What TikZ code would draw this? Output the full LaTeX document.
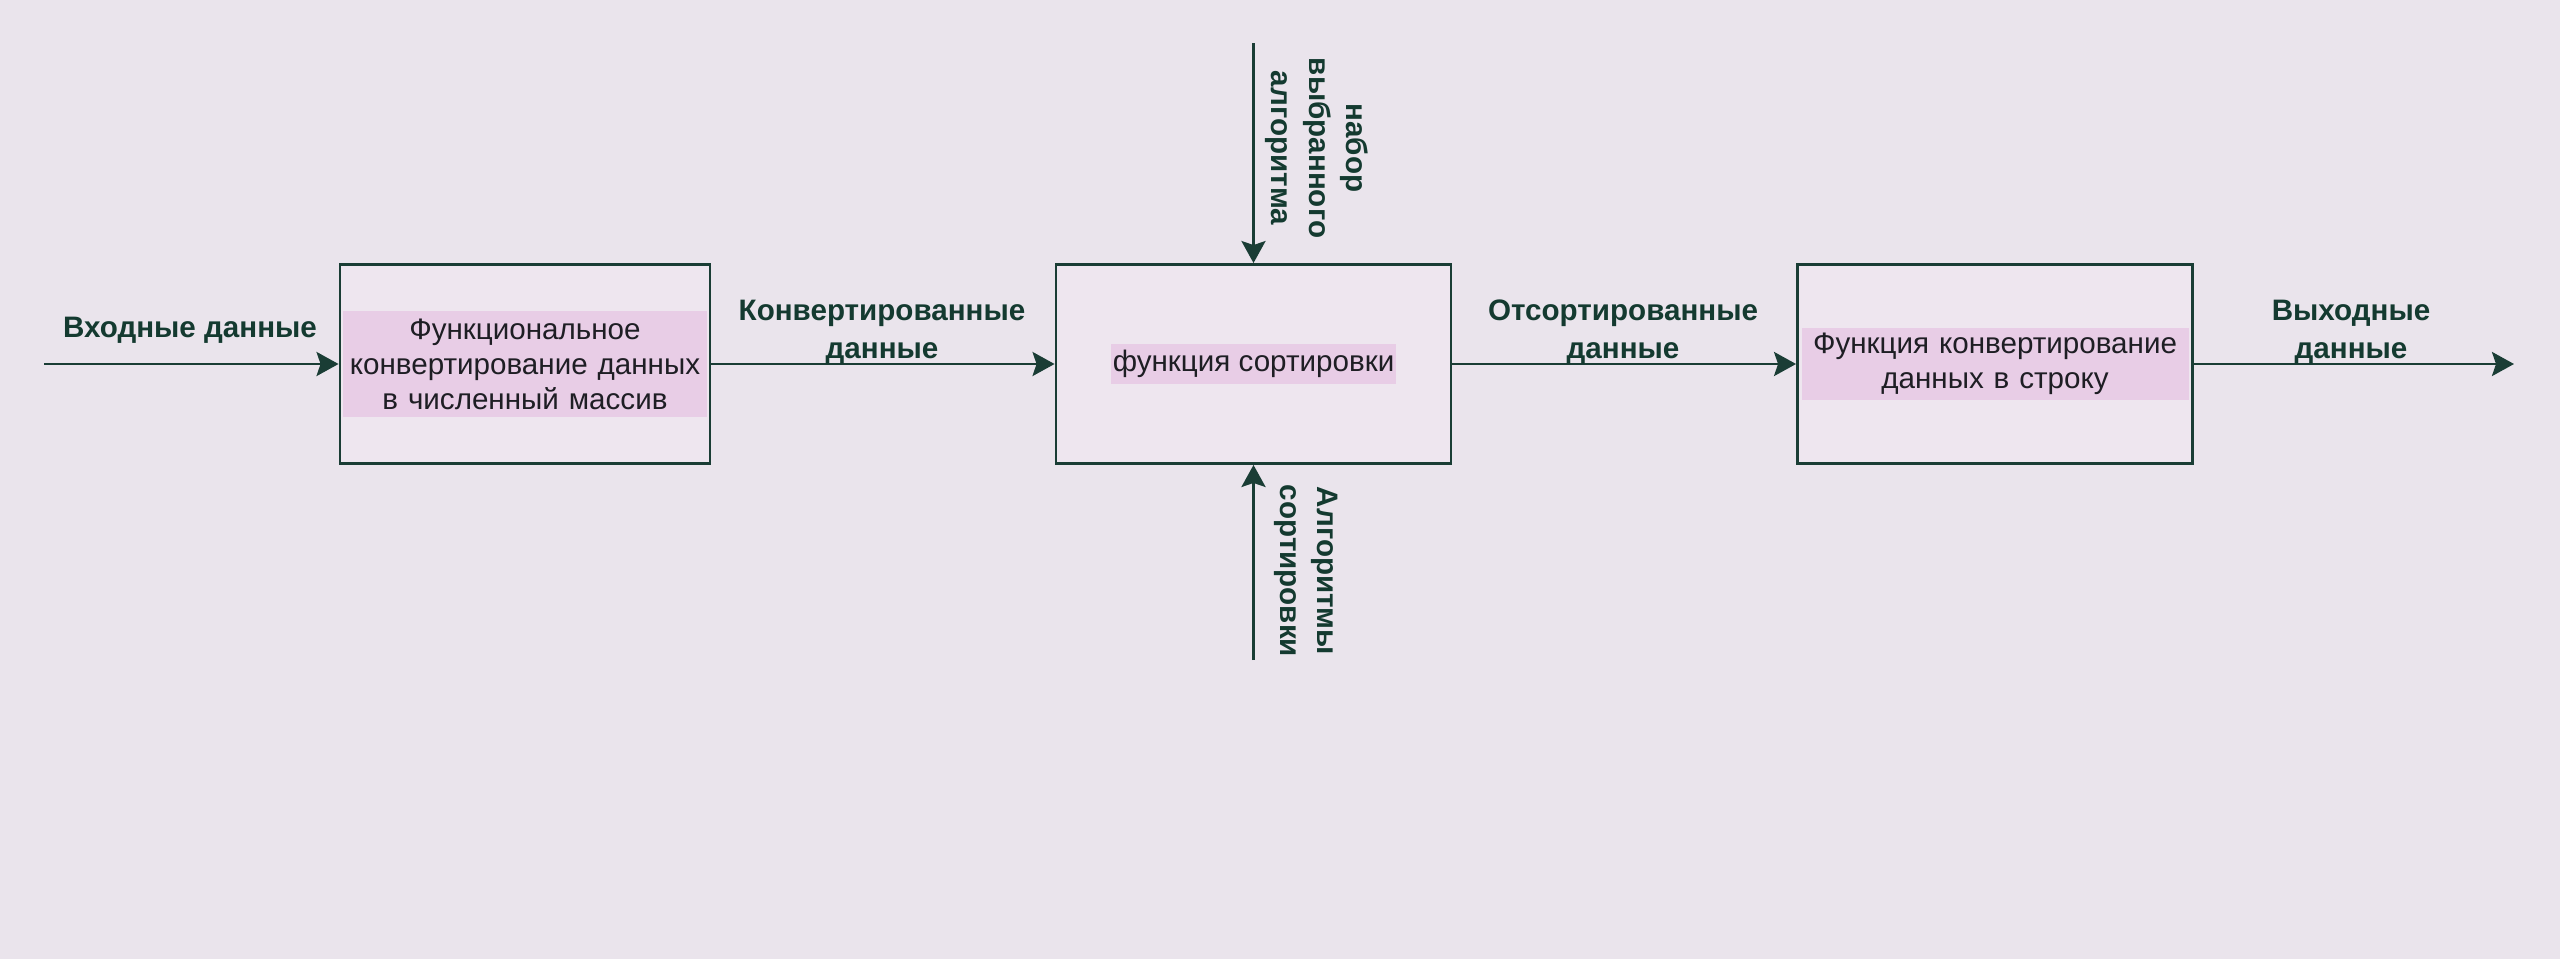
\documentclass[tikz,border=0pt]{standalone}
\usepackage{fontspec}
\setmainfont{Liberation Sans}
\usetikzlibrary{arrows.meta}
\definecolor{bgc}{HTML}{EAE4EC}
\definecolor{boxfill}{HTML}{EEE6EF}
\definecolor{hl}{HTML}{E8CDE6}
\definecolor{strokec}{HTML}{1A3D35}
\definecolor{labc}{HTML}{143A30}
\definecolor{txtc}{HTML}{1E1E24}
\tikzset{
  procbox/.style={draw=strokec, line width=1.45pt, fill=boxfill, minimum height=99.5pt, inner sep=0pt},
  hltext/.style={fill=hl, text=txtc, font=\fontsize{14.8}{17.5}\selectfont, align=center, inner sep=0pt},
  flowlabel/.style={text=labc, font=\bfseries\fontsize{14.8}{18.8}\selectfont, align=center, inner sep=0pt},
  flow/.style={draw=strokec, line width=1.45pt, -{Stealth[length=11pt, width=12pt, inset=2pt]}}
}
\begin{document}
\begin{tikzpicture}[x=0.5pt, y=-0.5pt]
\fill[bgc] (0,0) rectangle (2560,959);
\useasboundingbox (0,0) rectangle (2560,959);

\node[procbox, minimum width=185pt] (b1) at (525,364) {};
\node[procbox, minimum width=197.5pt] (b2) at (1253.5,364) {};
\node[procbox, minimum width=197.5pt] (b3) at (1995,364) {};

\node[hltext, text width=182pt, minimum height=53pt] (t1) at (b1.center) {Функциональное\\конвертирование данных\\в численный массив};
\node[hltext, inner xsep=1pt, inner ysep=3pt] (t2) at (b2.center) {функция сортировки};
\node[hltext, text width=193.5pt, minimum height=36pt] (t3) at (b3.center) {Функция конвертирование\\данных в строку};

\coordinate (in) at (44,364);
\coordinate (out) at (2514,364);
\coordinate (top) at (1253.5,43);
\coordinate (bot) at (1253.5,660);

\draw[flow] (in) -- (b1.west);
\draw[flow] (b1.east) -- (b2.west);
\draw[flow] (b2.east) -- (b3.west);
\draw[flow] (b3.east) -- (out);
\draw[flow] (top) -- (b2.north);
\draw[flow] (bot) -- (b2.south);

\node[flowlabel] (l1) at (190,330) {Входные данные};
\node[flowlabel] (l2) at (882,332) {Конвертированные\\данные};
\node[flowlabel] (l3) at (1623,332) {Отсортированные\\данные};
\node[flowlabel] (l4) at (2351,332) {Выходные\\данные};
\node[flowlabel, rotate=-90] (l5) at (1317,148) {набор\\выбранного\\алгоритма};
\node[flowlabel, rotate=-90] (l6) at (1306,571) {Алгоритмы\\сортировки};
\end{tikzpicture}
\end{document}
